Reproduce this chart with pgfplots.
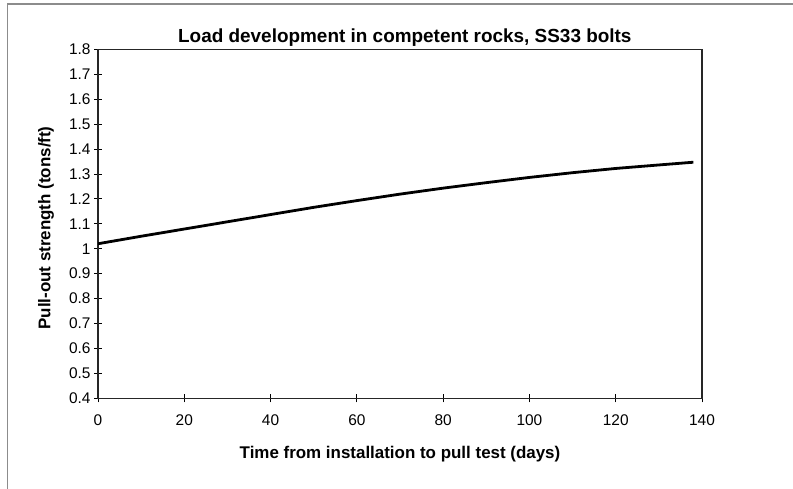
\documentclass[border=0pt]{standalone}
\usepackage{fontspec}
\setmainfont{Liberation Sans}
\usepackage{pgfplots}
\pgfplotsset{compat=1.18}
\begin{document}
\begin{tikzpicture}[x=1bp,y=1bp]
\path[use as bounding box] (0,0) rectangle (793,489);
% outer chart frame (only top and left edges show)
\draw[gray!90, line width=1.6bp] (7.5,0) -- (7.5,484.7) -- (793,484.7);
\begin{axis}[
  at={(98bp,90.7bp)}, anchor=south west,
  scale only axis, width=604bp, height=349bp,
  xmin=0, xmax=140, ymin=0.4, ymax=1.8,
  xtick={0,20,...,140},
  ytick={0.4,0.5,0.6,0.7,0.8,0.9,1,1.1,1.2,1.3,1.4,1.5,1.6,1.7,1.8},
  tick pos=left, tick align=center, major tick length=8bp,
  tick style={black, line width=0.8bp},
  axis line style={black!85, line width=1.4bp},
  /pgf/number format/assume math mode=true,
  ticklabel style={font=\fontsize{15.5}{18}\selectfont},
  xticklabel style={yshift=-9bp},
  yticklabel style={/pgf/number format/fixed, /pgf/number format/precision=1},
  title={Load development in competent rocks, SS33 bolts},
  title style={at={(axis description cs:0.508,1.0143)}, anchor=base, yshift=-4.5bp,
    font=\bfseries\fontsize{19}{22}\selectfont},
  xlabel={Time from installation to pull test (days)},
  ylabel={Pull-out strength (tons/ft)},
  label style={font=\bfseries\fontsize{17}{20}\selectfont},
  xlabel style={at={(axis description cs:0.5,-0.168)}, anchor=base, yshift=-2bp},
  ylabel style={at={(axis description cs:-0.086,0.488)}, anchor=center},
]
\addplot[black, line width=2.8bp] coordinates {
  (0,1.020) (10,1.050) (20,1.079) (30,1.108) (40,1.137) (50,1.166)
  (60,1.193) (70,1.219) (80,1.243) (90,1.265) (100,1.286) (110,1.305)
  (120,1.322) (130,1.336) (138,1.347)};
\end{axis}
\end{tikzpicture}
\end{document}
